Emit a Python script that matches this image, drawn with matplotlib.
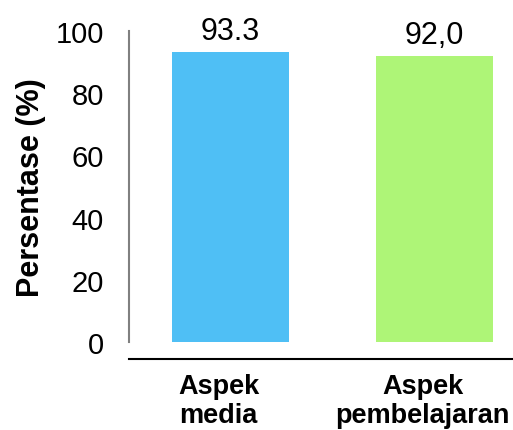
import matplotlib.pyplot as plt
from matplotlib.transforms import ScaledTranslation

plt.rcParams['font.family'] = ['Liberation Sans', 'DejaVu Sans']

# data
categories = ['Aspek\nmedia', 'Aspek\npembelajaran']
values = [93.3, 92.0]
value_labels = ['93.3', '92,0']
colors = ['#4fbff5', '#aef577']

fig = plt.figure(figsize=(5.13, 4.31), dpi=100)
ax = fig.add_axes([129 / 513, 1 - 343 / 431, 384 / 513, 311 / 431])

# spines first: set_position resets the ticks
ax.spines['top'].set_visible(False)
ax.spines['right'].set_visible(False)
ax.spines['left'].set_color('#808080')
ax.spines['left'].set_linewidth(1.5)
ax.spines['bottom'].set_position(('outward', 12.5))
ax.spines['bottom'].set_linewidth(1.5)

x = range(len(categories))
bars = ax.bar(x, values, width=0.574, color=colors)

for b, lab in zip(bars, value_labels):
    ax.text(b.get_x() + b.get_width() / 2, b.get_height() + 1.8, lab,
            ha='center', va='bottom', fontsize=22)

ax.set_ylim(0, 100)
ax.set_xlim(-0.4975, 1.385)
ax.set_yticks(range(0, 101, 20))
ax.tick_params(axis='y', length=0, pad=18, labelsize=21)
ax.tick_params(axis='x', length=0, pad=10, labelsize=19.5)
ax.set_xticks(list(x))
ax.set_xticklabels(categories, fontweight='bold', linespacing=1.12)
offset = ScaledTranslation(-12 / 100, 0, fig.dpi_scale_trans)
for lbl in ax.get_xticklabels():
    lbl.set_transform(lbl.get_transform() + offset)

ax.set_ylabel('Persentase (%)', fontsize=22, fontweight='bold', labelpad=7)

fig.savefig('out.png', dpi=100)
